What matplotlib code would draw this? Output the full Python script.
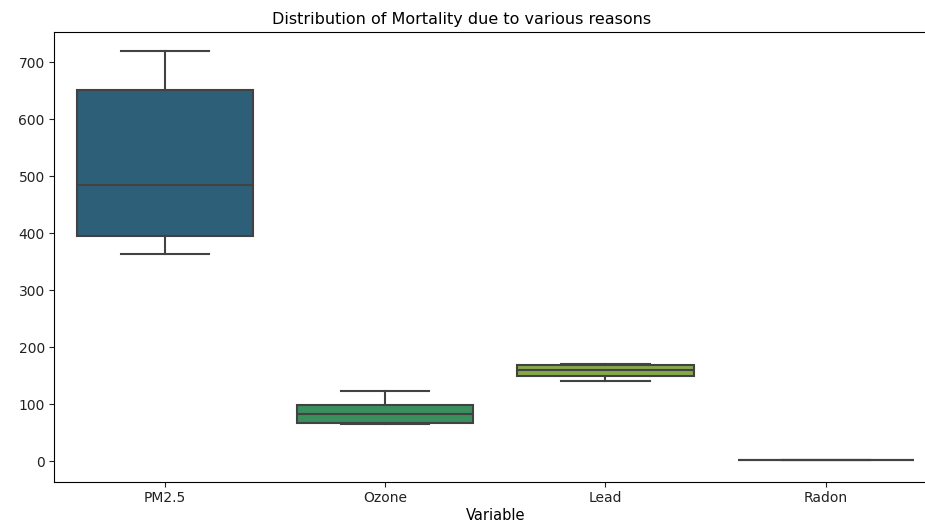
import matplotlib
matplotlib.use("Agg")
import matplotlib.pyplot as plt

# Mortality summary per cause (five-number summary of each box)
categories = ["PM2.5", "Ozone", "Lead", "Radon"]
whisker_low = [364, 65, 140, 2.5]
q1 = [395, 67, 150, 2.5]
median = [485, 82, 160, 2.5]
q3 = [652, 99, 168, 2.5]
whisker_high = [719, 123, 171, 2.5]
box_colors = ["#2e5f78", "#3a8f5e", "#85a84a", "#c9b43a"]

stats = []
for i, name in enumerate(categories):
    stats.append({
        "label": name,
        "whislo": whisker_low[i],
        "q1": q1[i],
        "med": median[i],
        "q3": q3[i],
        "whishi": whisker_high[i],
        "fliers": [],
    })

fig = plt.figure(figsize=(9.25, 5.23), dpi=100)
ax = fig.add_axes([0.0589, 0.0793, 0.953, 0.8595])

line_color = "#424242"
bp = ax.bxp(stats, positions=range(len(categories)), widths=0.8,
            capwidths=0.4, patch_artist=True, showfliers=False,
            boxprops=dict(edgecolor=line_color, linewidth=1.5),
            medianprops=dict(color=line_color, linewidth=1.5),
            whiskerprops=dict(color=line_color, linewidth=1.5),
            capprops=dict(color=line_color, linewidth=1.5))

for patch, c in zip(bp["boxes"], box_colors):
    patch.set_facecolor(c)

ax.set_xlim(-0.5, 3.5)
ax.set_ylim(-36, 753)
ax.set_xticks(range(len(categories)))
ax.set_xticklabels(categories)
ax.tick_params(labelsize=10, colors="#222222")
ax.set_xlabel("Variable", fontsize=10.5, labelpad=2)
ax.set_title("Distribution of Mortality due to various reasons",
             fontsize=11.5, x=0.462, pad=6)

fig.savefig("out.png", dpi=100)
